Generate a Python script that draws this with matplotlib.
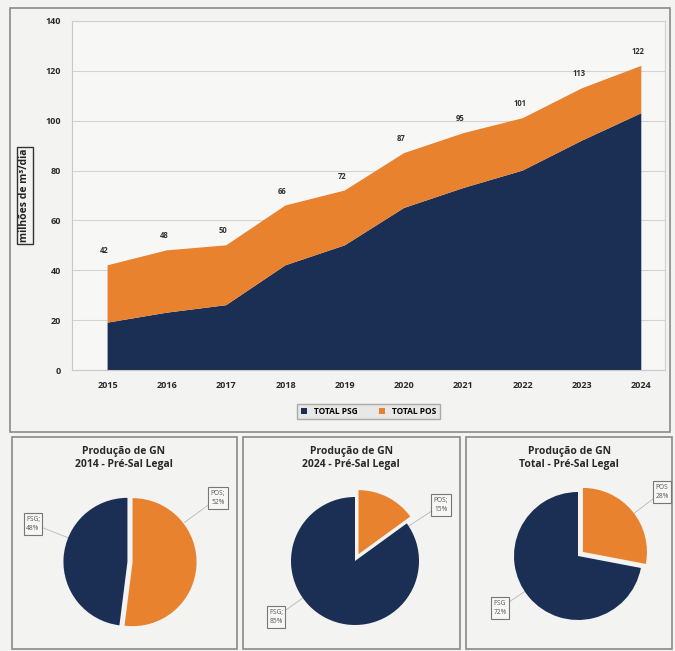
import matplotlib.pyplot as plt
import matplotlib.patches as mpatches
import numpy as np

# dados
anos = ['2015', '2016', '2017', '2018', '2019', '2020', '2021', '2022', '2023', '2024']
total_psg = [19, 23, 26, 42, 50, 65, 73, 80, 92, 103]
total_geral = [42, 48, 50, 66, 72, 87, 95, 101, 113, 122]
total_pos = [t - p for t, p in zip(total_geral, total_psg)]

pie_titulos = ['Produção de GN\n2014 - Pré-Sal Legal',
               'Produção de GN\n2024 - Pré-Sal Legal',
               'Produção de GN\nTotal - Pré-Sal Legal']
pie_pos = [52, 15, 28]
pie_psg = [48, 85, 72]

azul = '#1b2f55'
laranja = '#e8822f'
fundo = '#f3f3f1'

plt.rcParams['font.family'] = ['Open Sans', 'DejaVu Sans']

W, H = 675, 651
fig = plt.figure(figsize=(W / 100, H / 100), dpi=100, facecolor=fundo)


def fx(x):
    return x / W


def fy(y):
    return 1 - y / H


# caixas dos paineis
for (x0, y0, x1, y1) in [(10, 8, 670, 432), (12, 437, 237, 649), (243, 437, 460, 649), (466, 437, 672, 649)]:
    fig.patches.append(mpatches.Rectangle((fx(x0), fy(y1)), fx(x1 - x0), (y1 - y0) / H,
                                          transform=fig.transFigure, fill=False,
                                          edgecolor='#8a8a8a', linewidth=1.2))

# grafico de area
ax = fig.add_axes([fx(72), fy(370), fx(665 - 72), (370 - 21) / H])
ax.set_facecolor('#f7f7f5')
x = np.arange(len(anos))
ax.stackplot(x, total_psg, total_pos, colors=[azul, laranja], labels=['TOTAL PSG', 'TOTAL POS'])
for i, t in enumerate(total_geral):
    ax.text(i - 0.05, t + 4, str(t), ha='center', va='bottom', fontsize=5.5,
            fontweight='bold', color='#333333')
ax.set_xlim(-0.6, 9.4)
ax.set_ylim(0, 140)
ax.set_yticks(range(0, 141, 20))
ax.set_xticks(x)
ax.set_xticklabels(anos)
ax.tick_params(axis='both', length=0, labelsize=6.5, colors='#2a2a2a')
ax.tick_params(axis='x', pad=8)
ax.tick_params(axis='y', pad=8)
for lb in ax.get_xticklabels() + ax.get_yticklabels():
    lb.set_fontweight('bold')
ax.grid(axis='y', color='#d4d4d4', linewidth=0.8)
ax.set_axisbelow(True)
for s in ['top', 'right']:
    ax.spines[s].set_color('#d0d0d0')
ax.spines['left'].set_color('#c8c8c8')
ax.spines['bottom'].set_color('#c8c8c8')
ax.set_ylabel('milhões de m³/dia', fontsize=7.5, fontweight='bold', color='#222222',
              bbox=dict(boxstyle='square,pad=0.2', facecolor='none', edgecolor='#333333', linewidth=1))
ax.yaxis.set_label_coords(-0.07, 0.5)
leg = ax.legend(loc='upper center', bbox_to_anchor=(0.5, -0.085), ncol=2, fontsize=6,
                frameon=True, fancybox=False, edgecolor='#999999', handlelength=0.8,
                handleheight=0.8, columnspacing=2.5, prop={'weight': 'bold', 'size': 6})
leg.get_frame().set_facecolor('#e6e6e6')

# pizzas
centros = [(130, 562), (355, 561), (578, 556)]
raio = 64
explodes = [(0.04, 0.04), (0.12, 0.0), (0.1, 0.0)]
centro_titulo = [124, 351, 569]
caixas_pos = [(218, 498), (441, 505), (662, 492)]
caixas_psg = [(33, 524), (276, 617), (500, 608)]
sep_pos = [';', ';', '']
sep_psg = [';', ';', '']

for k in range(3):
    cx, cy = centros[k]
    pax = fig.add_axes([fx(cx - raio * 1.2), fy(cy + raio * 1.2), fx(raio * 2.4), raio * 2.4 / H])
    pax.set_facecolor('none')
    pax.pie([pie_pos[k], pie_psg[k]], colors=[laranja, azul], startangle=90, counterclock=False,
            explode=explodes[k], radius=1.0, wedgeprops=dict(linewidth=0))
    pax.set_xlim(-1.2, 1.2)
    pax.set_ylim(-1.2, 1.2)
    pax.set_aspect('equal')
    pax.axis('off')
    fig.text(fx(centro_titulo[k]), fy(446), pie_titulos[k], ha='center', va='top', fontsize=7.5,
             fontweight='bold', color='#2a2a2a', linespacing=1.3)
    # linhas de chamada discretas
    for (bx, by) in [caixas_pos[k], caixas_psg[k]]:
        px = cx + (bx - cx) * 0.62
        py = cy + (by - cy) * 0.62
        fig.add_artist(plt.Line2D([fx(bx), fx(px)], [fy(by), fy(py)], color='#b8b8b8',
                                  linewidth=0.6, transform=fig.transFigure, zorder=0))
    for (bx, by), txt in [(caixas_pos[k], 'POS' + sep_pos[k] + '\n' + str(pie_pos[k]) + '%'),
                          (caixas_psg[k], 'PSG' + sep_psg[k] + '\n' + str(pie_psg[k]) + '%')]:
        fig.text(fx(bx), fy(by), txt, ha='center', va='center', fontsize=4.8, color='#555555',
                 linespacing=1.5,
                 bbox=dict(boxstyle='square,pad=0.35', facecolor='#f7f7f5', edgecolor='#777777', linewidth=0.8))

fig.savefig('out.png', dpi=100, facecolor=fundo)
